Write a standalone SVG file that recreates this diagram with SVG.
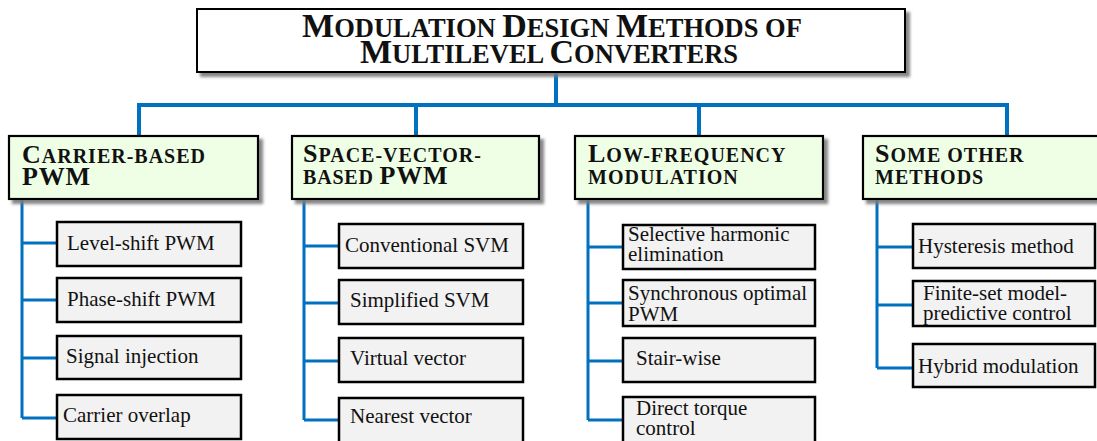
<svg xmlns="http://www.w3.org/2000/svg" width="1097" height="441" viewBox="0 0 1097 441">
  <defs>
    <filter id="shadow" x="-5%" y="-10%" width="115%" height="130%">
      <feDropShadow dx="4" dy="4" stdDeviation="1.6" flood-color="#7a7a7a" flood-opacity="0.9"/>
    </filter>
  </defs>
  <style>
    .title { fill: #ffffff; stroke: #000000; stroke-width: 2; }
    .cat { fill: #efffe6; stroke: #000000; stroke-width: 2.2; }
    .leaf { fill: #f2f2f2; stroke: #000000; stroke-width: 2.5; }
    .hd { font-family: "Liberation Serif", "Times New Roman", serif; font-weight: bold; fill: #111111; }
    .big { font-size: 34px; }
    .sc { font-size: 26.5px; }
    .cbig { font-size: 26px; }
    .csc { font-size: 20px; }
    .lbl { font-family: "Liberation Serif", "Times New Roman", serif; font-size: 21px; fill: #111111; }
    .trunk { fill: none; stroke: #0070c0; stroke-width: 4; }
    .branch { fill: none; stroke: #0070c0; stroke-width: 3; }
  </style>

  <!-- connectors -->
  <g id="connectors">
    <path class="trunk" d="M556,72 V105 M139,136 V105 H1007 V136 M416,105 V136 M699,105 V136"/>
    <path class="branch" d="M22,199 V418 M22,243 H57 M22,300 H57 M22,358 H57 M22,418 H57"/>
    <path class="branch" d="M304,199 V420 M304,246 H339 M304,303 H339 M304,361 H339 M304,420 H339"/>
    <path class="branch" d="M588,199 V420 M588,247 H623 M588,303 H623 M588,361 H623 M588,420 H623"/>
    <path class="branch" d="M877,199 V368 M877,247 H913 M877,305 H913 M877,368 H913"/>
  </g>

  <!-- root -->
  <g id="root">
    <rect class="title" x="197" y="9" width="708" height="63" filter="url(#shadow)"/>
    <text class="hd" x="552" y="37" text-anchor="middle"><tspan class="big">M</tspan><tspan class="sc">ODULATION </tspan><tspan class="big">D</tspan><tspan class="sc">ESIGN </tspan><tspan class="big">M</tspan><tspan class="sc">ETHODS OF</tspan></text>
    <text class="hd" x="549" y="63" text-anchor="middle"><tspan class="big">M</tspan><tspan class="sc">ULTILEVEL </tspan><tspan class="big">C</tspan><tspan class="sc">ONVERTERS</tspan></text>
  </g>

  <!-- category: carrier-based -->
  <g id="carrier-based">
    <rect class="cat" x="9" y="136" width="249" height="63" filter="url(#shadow)"/>
    <text class="hd" x="22" y="163" letter-spacing="1"><tspan class="cbig">C</tspan><tspan class="csc">ARRIER-BASED</tspan></text>
    <text class="hd cbig" x="22" y="185" letter-spacing="0.8">PWM</text>
  </g>

  <!-- category: space-vector -->
  <g id="space-vector">
    <rect class="cat" x="292" y="136" width="247" height="63" filter="url(#shadow)"/>
    <text class="hd" x="303" y="162" letter-spacing="1"><tspan class="cbig">S</tspan><tspan class="csc">PACE-VECTOR-</tspan></text>
    <text class="hd" x="303" y="184" letter-spacing="0.8"><tspan class="csc">BASED </tspan><tspan class="cbig">PWM</tspan></text>
  </g>

  <!-- category: low-frequency -->
  <g id="low-frequency">
    <rect class="cat" x="575" y="136" width="248" height="63" filter="url(#shadow)"/>
    <text class="hd" x="588" y="162" letter-spacing="1"><tspan class="cbig">L</tspan><tspan class="csc">OW-FREQUENCY</tspan></text>
    <text class="hd csc" x="588" y="184" letter-spacing="1">MODULATION</text>
  </g>

  <!-- category: other methods -->
  <g id="other-methods">
    <rect class="cat" x="863" y="136" width="250" height="63" filter="url(#shadow)"/>
    <text class="hd" x="875" y="162" letter-spacing="1"><tspan class="cbig">S</tspan><tspan class="csc">OME OTHER</tspan></text>
    <text class="hd csc" x="875" y="184" letter-spacing="1">METHODS</text>
  </g>

  <!-- carrier-based leaves -->
  <g id="level-shift">
    <rect class="leaf" x="57" y="222" width="184" height="44"/>
    <text class="lbl" x="67" y="250">Level-shift PWM</text>
  </g>
  <g id="phase-shift">
    <rect class="leaf" x="57" y="278" width="184" height="44"/>
    <text class="lbl" x="67" y="306">Phase-shift PWM</text>
  </g>
  <g id="signal-injection">
    <rect class="leaf" x="57" y="336" width="184" height="43"/>
    <text class="lbl" x="66" y="363">Signal injection</text>
  </g>
  <g id="carrier-overlap">
    <rect class="leaf" x="57" y="395" width="184" height="44"/>
    <text class="lbl" x="63" y="422">Carrier overlap</text>
  </g>

  <!-- space-vector leaves -->
  <g id="conventional-svm">
    <rect class="leaf" x="339" y="224" width="184" height="44"/>
    <text class="lbl" x="345" y="252">Conventional SVM</text>
  </g>
  <g id="simplified-svm">
    <rect class="leaf" x="339" y="280" width="184" height="44"/>
    <text class="lbl" x="350" y="307">Simplified SVM</text>
  </g>
  <g id="virtual-vector">
    <rect class="leaf" x="339" y="338" width="184" height="44"/>
    <text class="lbl" x="350" y="365">Virtual vector</text>
  </g>
  <g id="nearest-vector">
    <rect class="leaf" x="339" y="398" width="184" height="45"/>
    <text class="lbl" x="350" y="423">Nearest vector</text>
  </g>

  <!-- low-frequency leaves -->
  <g id="she">
    <rect class="leaf" x="623" y="225" width="192" height="44"/>
    <text class="lbl" x="628" y="241">Selective harmonic</text>
    <text class="lbl" x="628" y="261">elimination</text>
  </g>
  <g id="sop">
    <rect class="leaf" x="623" y="280" width="192" height="46"/>
    <text class="lbl" x="628" y="300">Synchronous optimal</text>
    <text class="lbl" x="628" y="321">PWM</text>
  </g>
  <g id="stair-wise">
    <rect class="leaf" x="623" y="338" width="192" height="44"/>
    <text class="lbl" x="636" y="365">Stair-wise</text>
  </g>
  <g id="dtc">
    <rect class="leaf" x="623" y="397" width="192" height="46"/>
    <text class="lbl" x="636" y="415">Direct torque</text>
    <text class="lbl" x="636" y="435">control</text>
  </g>

  <!-- other-method leaves -->
  <g id="hysteresis">
    <rect class="leaf" x="913" y="224" width="182" height="44"/>
    <text class="lbl" x="918" y="253">Hysteresis method</text>
  </g>
  <g id="fcs-mpc">
    <rect class="leaf" x="913" y="281" width="182" height="45"/>
    <text class="lbl" x="923" y="300">Finite-set model-</text>
    <text class="lbl" x="923" y="320">predictive control</text>
  </g>
  <g id="hybrid">
    <rect class="leaf" x="913" y="344" width="182" height="43"/>
    <text class="lbl" x="918" y="373">Hybrid modulation</text>
  </g>
</svg>
